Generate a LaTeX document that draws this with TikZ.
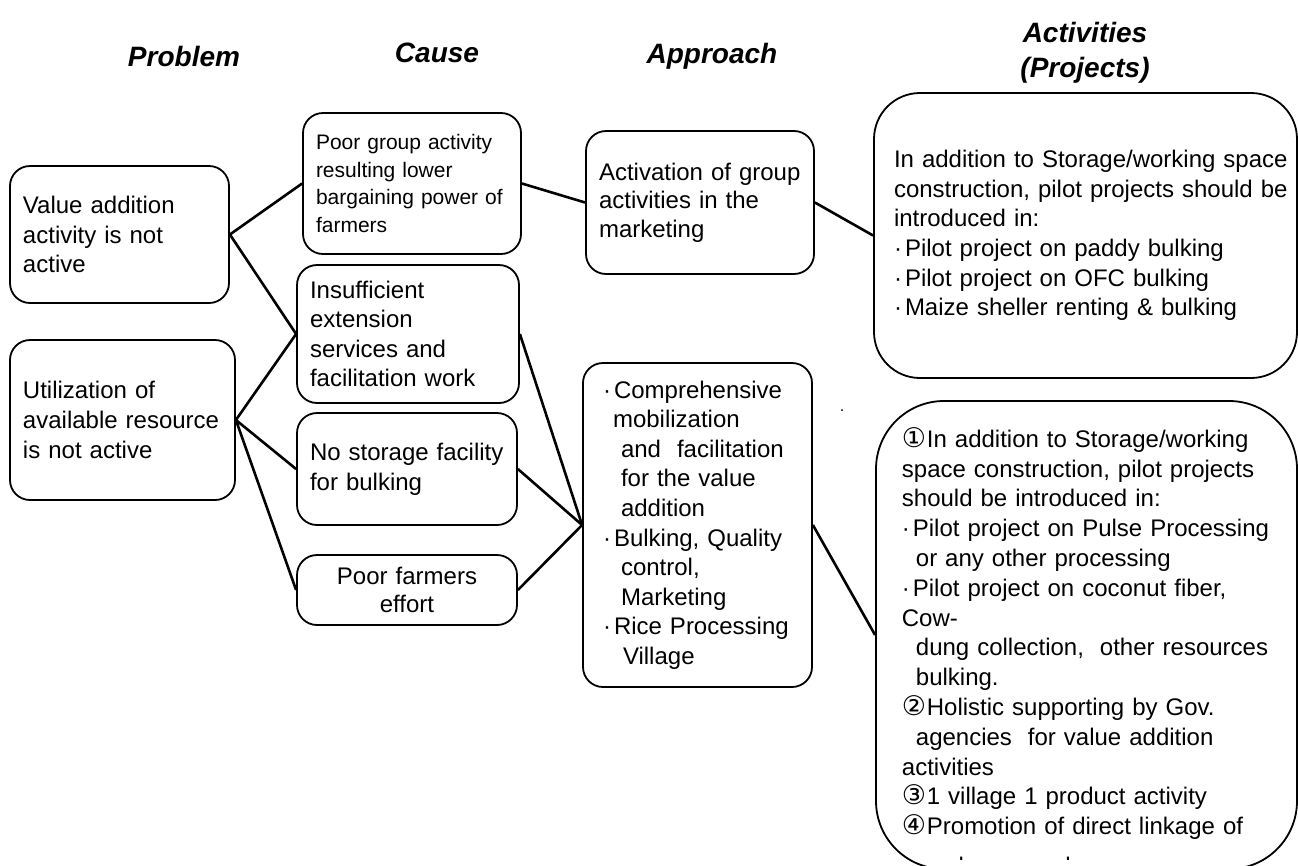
\documentclass[tikz,border=0pt]{standalone}
\usepackage{fontspec}
\setmainfont{Liberation Sans}
\newfontfamily\symfont{DejaVu Sans}
% bullet and circled numbers used in the list texts
\newcommand\bul{\makebox[11pt][l]{·}}
\newcommand\cnum[1]{\makebox[25pt][l]{\smash{\fontsize{27}{29.8}\symfont #1}}}
\begin{document}
\begin{tikzpicture}[x=1pt,y=-1pt,
  box/.style={draw, line width=1.8pt, rounded corners=20pt, inner xsep=13pt,
    inner ysep=0pt, align=left, font=\fontsize{24}{29.6}\selectfont},
  link/.style={line width=2.6pt},
  heading/.style={font=\fontsize{28}{34}\selectfont\bfseries\itshape,
    inner sep=0pt, anchor=base}]
\useasboundingbox (0,0) rectangle (1298,865);
\clip (0,0) rectangle (1298,865);

% column headings
\node[heading] (hprob) at (184,66) {Problem};
\node[heading] (hcause) at (437,62) {Cause};
\node[heading] (happr) at (712,63) {Approach};
\node[heading] (hact) at (1085,42) {Activities};
\node[heading] (hproj) at (1085,77) {(Projects)};

% problems
\node[box, text width=193pt, minimum height=137pt] (p1) at (119.5,234.5)
  {Value addition\\activity is not\\active};
\node[box, text width=199pt, minimum height=160pt] (p2) at (122.5,420)
  {Utilization of\\available resource\\is not active};

% causes
\node[box, text width=192pt, minimum height=141pt,
  font=\fontsize{21}{27.5}\selectfont] (c1) at (412,183.5)
  {Poor group activity\\resulting lower\\bargaining power of\\farmers};
\node[box, text width=196pt, minimum height=138pt] (c2) at (408,334)
  {Insufficient\\extension\\services and\\facilitation work};
\node[box, text width=194pt, minimum height=112pt] (c3) at (407,469)
  {No storage facility\\for bulking};
\node[box, text width=194pt, minimum height=70pt, align=center,
  font=\fontsize{24}{28}\selectfont] (c4) at (407,590)
  {Poor farmers\\effort};

% approaches
\node[box, text width=202pt, minimum height=143pt,
  font=\fontsize{24}{28.5}\selectfont] (a1) at (700,202.5)
  {Activation of group\\activities in the\\marketing};
\node[box, inner xsep=20pt, text width=189pt, minimum height=324pt] (a2) at (697.5,525)
  {\bul Comprehensive\\
   \hspace*{10pt}mobilization\\
   \hspace*{18pt}and\ \ facilitation\\
   \hspace*{18pt}for the value\\
   \hspace*{18pt}addition\\
   \bul Bulking, Quality\\
   \hspace*{18pt}control,\\
   \hspace*{18pt}Marketing\\
   \bul Rice Processing\\
   \hspace*{20pt}Village};

% activities
\node[box, rounded corners=46pt, inner xsep=20pt, text width=383pt,
  minimum height=285pt] (r1) at (1085.5,235.5)
  {\mbox{In addition to Storage/working space}\\
   \mbox{construction, pilot projects should be}\\
   introduced in:\\
   \bul Pilot project on paddy bulking\\
   \bul Pilot project on OFC bulking\\
   \bul Maize sheller renting \& bulking};
\node[box, rounded corners=68pt, minimum width=421pt, minimum height=468pt,
  inner sep=0pt] (r2) at (1086.5,635) {};
\begin{scope}
  % the list runs past the lower edge; only the tops of its last line show
  \clip (860,380) rectangle (1298,859);
  \node[box, draw=none, inner sep=0pt, text width=390pt, anchor=north west,
    font=\fontsize{24}{29.8}\selectfont]
    (r2text) at (901,429)
    {\cnum{①}In addition to Storage/working\\
     space construction, pilot projects\\
     should be introduced in:\\
     \bul Pilot project on Pulse Processing\\
     \hspace*{14pt}or any other processing\\
     \bul Pilot project on coconut fiber,\\
     Cow-\\
     \hspace*{14pt}dung collection,\ \ other resources\\
     \hspace*{14pt}bulking.\\
     \cnum{②}Holistic supporting by Gov.\\
     \hspace*{14pt}agencies\ \ for value addition\\
     activities\\
     \cnum{③}1 village 1 product activity\\
     \cnum{④}Promotion of direct linkage of\\[10pt]
     \hspace*{14pt}producers and consumers};
\end{scope}

% stray full stop between the columns
\node[font=\fontsize{16}{16}\selectfont, inner sep=0pt] (dot) at (842,411) {.};

% connectors
\draw[link] (p1.east) -- (c1.west);
\draw[link] (p1.east) -- (c2.west);
\draw[link] (p2.east) -- (c2.west);
\draw[link] (p2.east) -- (c3.west);
\draw[link] (p2.east) -- (c4.west);
\draw[link] (c1.east) -- (a1.west);
\draw[link] (c2.east) -- (a2.west);
\draw[link] (c3.east) -- (a2.west);
\draw[link] (c4.east) -- (a2.west);
\draw[link] (a1.east) -- (r1.west);
\draw[link] (a2.east) -- (r2.west);
\end{tikzpicture}
\end{document}
